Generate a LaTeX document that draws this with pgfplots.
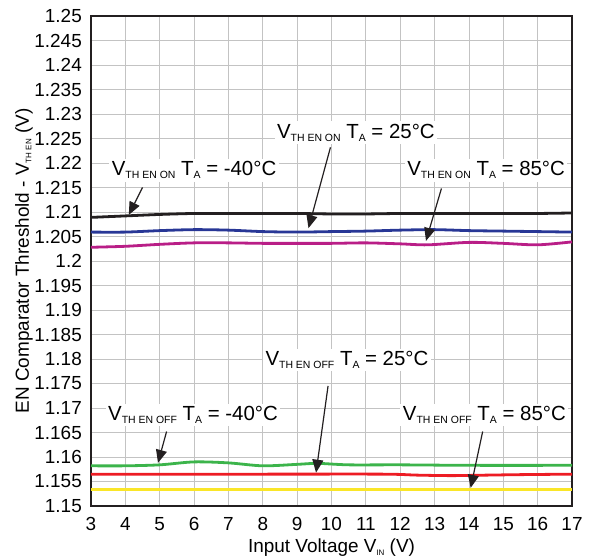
\documentclass[border=0pt]{standalone}
\usepackage{fontspec}
\setmainfont{Liberation Sans}
\usepackage{pgfplots}
\pgfplotsset{compat=1.18}
\usetikzlibrary{arrows.meta}
\definecolor{cblack}{RGB}{35,31,32}
\definecolor{cblue}{RGB}{40,55,150}
\definecolor{cmag}{RGB}{185,30,135}
\definecolor{cgreen}{RGB}{60,180,75}
\definecolor{cred}{RGB}{237,28,36}
\definecolor{cyellow}{RGB}{250,230,40}
\definecolor{gridgray}{RGB}{195,195,195}
\newcommand{\sub}[1]{\raisebox{-3bp}{\fontsize{10.5}{10.5}\selectfont #1}}
\newcommand{\lsub}[1]{\raisebox{-2.5bp}{\fontsize{8}{8}\selectfont #1}}
\tikzset{
  arr/.style={draw=cblack, line width=1.2bp, -{Triangle[length=13bp,width=11bp]}},
  lab/.style={fill=white, inner sep=2.5bp, font=\fontsize{20.5}{20.5}\selectfont},
}
\begin{document}
\begin{tikzpicture}
\useasboundingbox (-91bp,-53bp) rectangle (508bp,506bp);
\begin{axis}[
  at={(0,0)}, anchor=south west,
  scale only axis, width=481bp, height=490bp,
  xmin=3, xmax=17, ymin=1.15, ymax=1.25,
  xtick={3,4,5,6,7,8,9,10,11,12,13,14,15,16,17},
  ytick={1.15,1.155,1.16,1.165,1.17,1.175,1.18,1.185,1.19,1.195,1.2,1.205,1.21,1.215,1.22,1.225,1.23,1.235,1.24,1.245,1.25},
  grid=major,
  grid style={color=gridgray, line width=0.8bp},
  major tick length=0pt,
  axis line style={line width=2bp, color=cblack},
  /pgf/number format/assume math mode=true,
  tick label style={font=\fontsize{19}{19}\selectfont},
  yticklabel style={/pgf/number format/precision=3, inner sep=0pt, anchor=east, xshift=-9bp},
  xticklabel style={inner sep=0pt, anchor=north, yshift=-11bp},
  xlabel={Input Voltage V\lsub{IN} (V)},
  ylabel={EN Comparator Threshold - V\lsub{TH EN} (V)},
  label style={font=\fontsize{19}{19}\selectfont},
  xlabel style={at={(axis description cs:0.5,-0.0857)}, anchor=center},
  ylabel style={at={(axis description cs:-0.1393,0.5)}, anchor=center},
  clip mode=individual,
  every axis plot/.append style={line width=2.8bp, smooth},
]
% black: V_TH EN ON, TA=-40C
\addplot[color=cblack] coordinates {(3,1.2089)(4,1.2092)(5,1.2095)(6,1.2097)(7,1.2097)(8,1.2097)(9,1.2097)(10,1.2096)(11,1.2096)(12,1.2097)(13,1.2097)(14,1.2097)(15,1.2097)(16,1.2097)(17,1.2098)};
% blue: V_TH EN ON, TA=25C
\addplot[color=cblue] coordinates {(3,1.2059)(4,1.2059)(5,1.2062)(6,1.2064)(7,1.2063)(8,1.2060)(9,1.2059)(10,1.2060)(11,1.2061)(12,1.2063)(13,1.2064)(14,1.2062)(15,1.2061)(16,1.2060)(17,1.2059)};
% magenta: V_TH EN ON, TA=85C
\addplot[color=cmag] coordinates {(3,1.2028)(4,1.2030)(5,1.2034)(6,1.2037)(7,1.2037)(8,1.2036)(9,1.2036)(10,1.2036)(11,1.2037)(12,1.2035)(12.8,1.2033)(14,1.2038)(15,1.2036)(16,1.2033)(17,1.2039)};
% green: V_TH EN OFF, TA=-40C
\addplot[color=cgreen] coordinates {(3,1.1582)(4,1.1582)(5,1.1584)(6,1.1590)(7,1.1588)(8,1.1582)(9,1.1585)(9.6,1.1587)(10.5,1.1584)(12,1.1584)(14,1.1583)(17,1.1583)};
% red: V_TH EN OFF, TA=25C
\addplot[color=cred] coordinates {(3,1.1565)(8,1.1565)(11.5,1.1565)(12.5,1.1563)(13.5,1.1562)(14.5,1.1563)(15.5,1.1564)(17,1.1565)};
% yellow: V_TH EN OFF, TA=85C
\addplot[color=cyellow] coordinates {(3,1.1534)(10,1.1534)(17,1.1534)};

\node[lab] at (axis cs:6.0,1.2185) {V\sub{TH EN ON}\ T\sub{A} = -40°C};
\node[lab] at (axis cs:10.71,1.2262) {V\sub{TH EN ON}\ T\sub{A} = 25°C};
\node[lab] at (axis cs:14.5,1.2185) {V\sub{TH EN ON}\ T\sub{A} = 85°C};
\node[lab] at (axis cs:10.45,1.1798) {V\sub{TH EN OFF}\ T\sub{A} = 25°C};
\node[lab] at (axis cs:5.97,1.1686) {V\sub{TH EN OFF}\ T\sub{A} = -40°C};
\node[lab] at (axis cs:14.45,1.1686) {V\sub{TH EN OFF}\ T\sub{A} = 85°C};

\coordinate (s1) at (axis cs:4.5,1.2150);  \coordinate (e1) at (axis cs:4.1,1.2094);
\coordinate (s2) at (axis cs:9.97,1.2232); \coordinate (e2) at (axis cs:9.33,1.2067);
\coordinate (s3) at (axis cs:13.2,1.2148); \coordinate (e3) at (axis cs:12.75,1.2041);
\coordinate (s4) at (axis cs:9.9,1.1745);  \coordinate (e4) at (axis cs:9.55,1.1568);
\coordinate (s5) at (axis cs:5.2,1.1652);  \coordinate (e5) at (axis cs:4.95,1.1588);
\coordinate (s6) at (axis cs:14.4,1.1652); \coordinate (e6) at (axis cs:14.05,1.1537);
\end{axis}
\foreach \i in {1,...,6} {\draw[arr] (s\i) -- (e\i);}
\end{tikzpicture}
\end{document}
